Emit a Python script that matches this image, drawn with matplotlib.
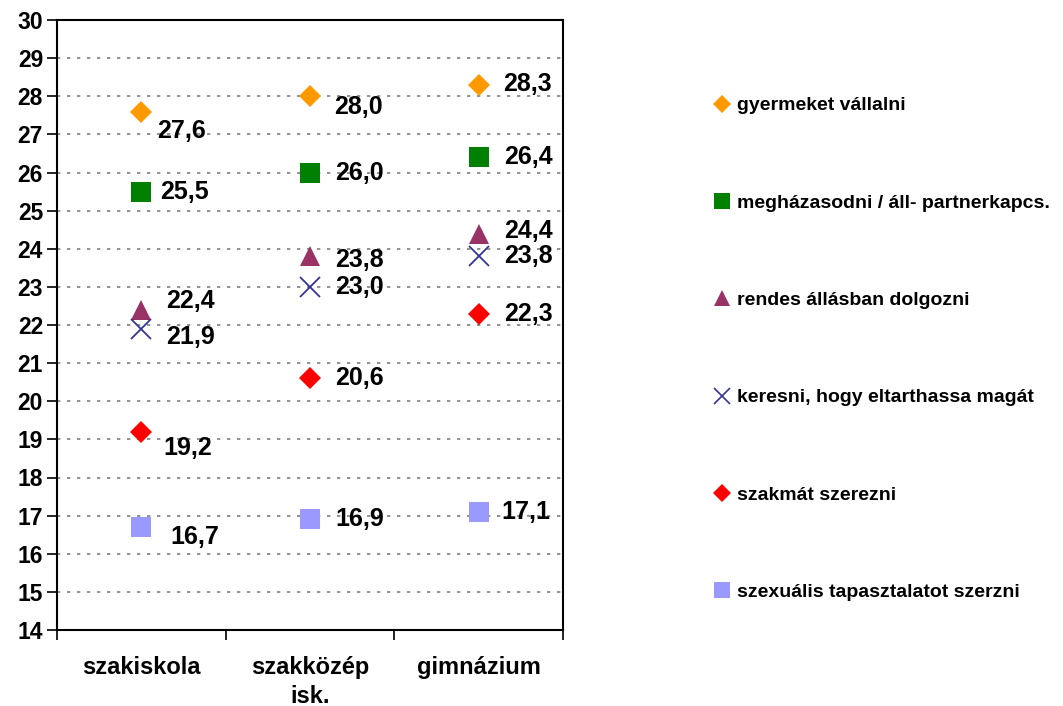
import matplotlib
matplotlib.use("Agg")
import matplotlib.pyplot as plt
from matplotlib.lines import Line2D
import numpy as np

# --- data ---
categories = ["szakiskola", "szakközép\nisk.", "gimnázium"]
series_names = [
    "gyermeket vállalni",
    "megházasodni / áll- partnerkapcs.",
    "rendes állásban dolgozni",
    "keresni, hogy eltarthassa magát",
    "szakmát szerezni",
    "szexuális tapasztalatot szerzni",
]
gyermek = [27.6, 28.0, 28.3]
hazas = [25.5, 26.0, 26.4]
allas = [22.4, 23.8, 24.4]
keresni = [21.9, 23.0, 23.8]
szakma = [19.2, 20.6, 22.3]
szex = [16.7, 16.9, 17.1]
values = [gyermek, hazas, allas, keresni, szakma, szex]

# --- styles ---
colors = ["#FF9900", "#008000", "#993366", "#333399", "#FF0000", "#9999FF"]
markers = ["D", "s", "^", "x", "D", "s"]
msizes = [11, 15, 14, 15, 11, 15]
# label offsets (pixels) per series per category
offsets = [
    [(16, -20), (24, -11), (24, 1)],
    [(19, 0), (25, 0), (25, 0)],
    [(25, 9), (25, -4), (25, 2)],
    [(25, -8), (25, 0), (25, 0)],
    [(22, -16), (25, 0), (25, 0)],
    [(29, -10), (25, 0), (23, 0)],
]

plt.rcParams["font.family"] = ["Liberation Sans", "DejaVu Sans"]
plt.rcParams["font.weight"] = "bold"

fig = plt.figure(figsize=(10.63, 7.06), dpi=100)
ax = fig.add_axes([57 / 1063, 76 / 706, 506 / 1063, 610 / 706])

x = np.arange(len(categories)) + 0.5
handles = []
for vals, name, c, m, ms, offs in zip(values, series_names, colors, markers, msizes, offsets):
    if m == "x":
        ax.plot(x, vals, linestyle="none", marker=m, markersize=ms, color=c,
                markeredgewidth=1.3, zorder=3)
    else:
        ax.plot(x, vals, linestyle="none", marker=m, markersize=ms, color=c,
                markeredgewidth=0, zorder=3)
    for xi, v, (dx, dy) in zip(x, vals, offs):
        ax.annotate(f"{v:.1f}".replace(".", ","), (xi, v), xytext=(dx, dy),
                    textcoords="offset pixels", ha="left", va="center",
                    fontsize=18, fontweight="bold", zorder=4)
    if m == "x":
        handles.append(Line2D([], [], linestyle="none", marker=m, markersize=12,
                              color=c, markeredgewidth=1.2, label=name))
    else:
        hs = 9 if m == "D" else 11
        handles.append(Line2D([], [], linestyle="none", marker=m, markersize=hs,
                              color=c, markeredgewidth=0, label=name))

ax.set_xlim(0, 3)
ax.set_ylim(14, 30)
ax.set_yticks(range(14, 31))
ax.set_xticks([0, 1, 2, 3])
ax.set_xticklabels([])
ax.set_xticks(x, minor=True)
ax.set_xticklabels(categories, minor=True, fontsize=17, fontweight="bold",
                   linespacing=1.3)
ax.tick_params(axis="x", which="minor", length=0, pad=19)
ax.tick_params(axis="x", which="major", length=7, width=1.2, direction="out")
ax.tick_params(axis="y", length=7, width=1.2, direction="out", labelsize=16.5, pad=3)
for lbl in ax.get_yticklabels():
    lbl.set_fontweight("bold")

for y in range(15, 30):
    ax.axhline(y, color="#808080", linestyle=(0, (2, 4)), linewidth=1.2, zorder=1)

for sp in ax.spines.values():
    sp.set_linewidth(1.5)
    sp.set_color("black")

fig.legend(handles=handles, loc="upper left", bbox_to_anchor=(704 / 1063, 1 - 87 / 706),
           frameon=False, prop={"size": 14, "weight": "bold"}, labelspacing=4.1,
           handlelength=0.8, handletextpad=0.4, borderpad=0)

fig.savefig("out.png", dpi=100)
